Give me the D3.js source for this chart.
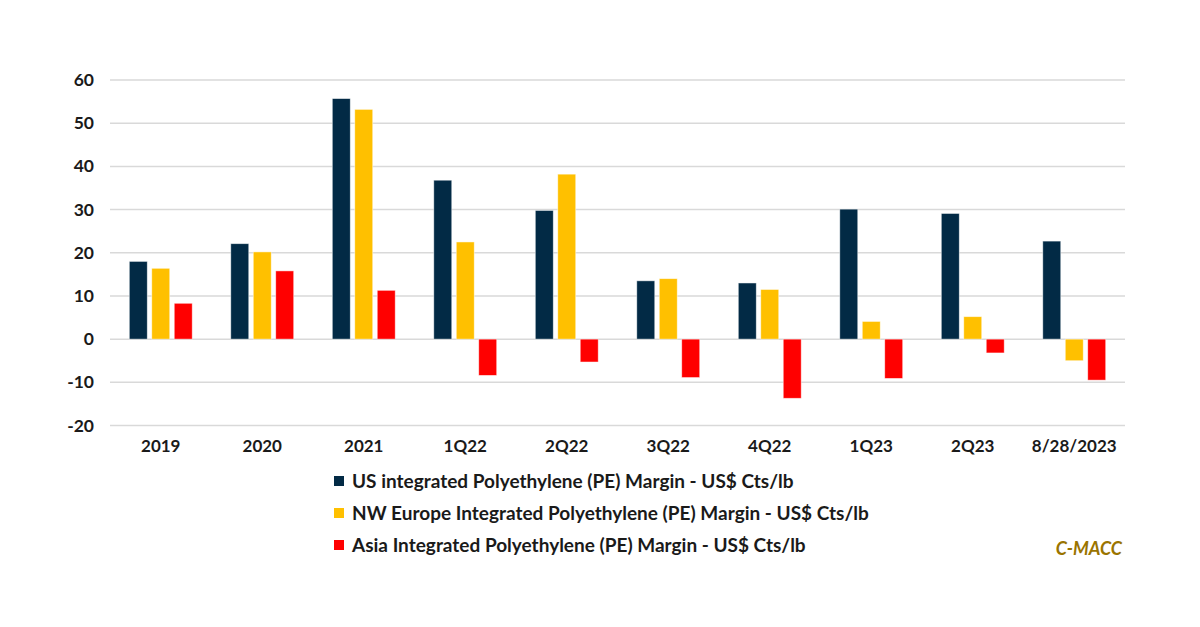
<!DOCTYPE html>
<html>
<head>
<meta charset="utf-8">
<script src="https://cdn.jsdelivr.net/npm/d3@7"></script>
<style>
  body { margin: 0; background: #fff; }
  text { font-family: Lato, "Open Sans", sans-serif; font-weight: bold; }
</style>
</head>
<body>
<div id="chart"></div>
<script>
const categories = ["2019", "2020", "2021", "1Q22", "2Q22", "3Q22", "4Q22", "1Q23", "2Q23", "8/28/2023"];
const usMargin = [18.0, 22.1, 55.7, 36.8, 29.8, 13.5, 13.0, 30.1, 29.1, 22.7];
const nwEuropeMargin = [16.4, 20.2, 53.2, 22.5, 38.2, 14.0, 11.5, 4.1, 5.2, -5.0];
const asiaMargin = [8.3, 15.8, 11.3, -8.4, -5.3, -8.9, -13.7, -9.1, -3.2, -9.5];
const seriesNames = [
  "US integrated Polyethylene (PE) Margin - US$ Cts/lb",
  "NW Europe Integrated Polyethylene (PE) Margin - US$ Cts/lb",
  "Asia Integrated Polyethylene (PE) Margin - US$ Cts/lb",
];
const yTicks = [-20, -10, 0, 10, 20, 30, 40, 50, 60];

const colors = ["#022a45", "#ffc000", "#ff0000"];
const series = [usMargin, nwEuropeMargin, asiaMargin];

var width = 1200, height = 627;
var margin = { top: 80, left: 110, right: 75 };
var plotW = width - margin.left - margin.right;

var svg = d3.select("#chart").append("svg")
  .attr("width", width).attr("height", height);

var y = d3.scaleLinear().domain([-20, 60]).range([425.5, 80]);

var x0 = d3.scaleBand().domain(categories).range([margin.left, margin.left + plotW]).padding(0);
var bw = x0.bandwidth();
var x1 = d3.scaleBand().domain([0, 1, 2])
  .range([bw * 0.19, bw * 0.81]).paddingInner(0.2).paddingOuter(0);

// gridlines
svg.append("g").selectAll("line").data(yTicks).enter().append("line")
  .attr("x1", margin.left).attr("x2", margin.left + plotW)
  .attr("y1", d => y(d)).attr("y2", d => y(d))
  .attr("stroke", "#d9d9d9").attr("stroke-width", 1.5);

// y axis labels (hyphen minus like the original)
var yAxis = svg.append("g")
  .attr("transform", "translate(" + (margin.left - 16) + ",0)")
  .call(d3.axisLeft(y).tickValues(yTicks).tickSize(0).tickPadding(0)
    .tickFormat(d => String(d)));
yAxis.select(".domain").remove();
yAxis.selectAll("text")
  .style("font-family", "Lato, sans-serif").style("font-weight", "bold")
  .style("font-size", "17.5px").attr("fill", "#1a1a1a");

// bars
series.forEach(function (vals, s) {
  svg.append("g").selectAll("rect").data(vals).enter().append("rect")
    .attr("x", (d, i) => x0(categories[i]) + x1(s))
    .attr("y", d => y(Math.max(0, d)))
    .attr("width", x1.bandwidth())
    .attr("height", d => Math.abs(y(d) - y(0)))
    .attr("fill", colors[s])
    .attr("stroke", "#ffffff").attr("stroke-opacity", 0.6).attr("stroke-width", 0.8);
});

// x axis labels
var xAxis = svg.append("g")
  .attr("transform", "translate(0," + 440 + ")")
  .call(d3.axisBottom(x0).tickSize(0).tickPadding(0));
xAxis.select(".domain").remove();
xAxis.selectAll("text")
  .style("font-family", "Lato, sans-serif").style("font-weight", "bold")
  .style("font-size", "17px").attr("fill", "#1a1a1a");

// legend
var legend = svg.append("g");
seriesNames.forEach(function (name, i) {
  var ly = 481 + i * 32;
  legend.append("rect")
    .attr("x", 334).attr("y", ly - 5).attr("width", 10).attr("height", 10)
    .attr("fill", colors[i]);
  legend.append("text")
    .attr("x", 352).attr("y", ly).attr("dy", "0.35em")
    .style("font-size", "19px").attr("fill", "#1a1a1a")
    .text(name);
});

// source
svg.append("text")
  .attr("x", 1122).attr("y", 555)
  .attr("text-anchor", "end")
  .style("font-size", "18px").style("font-style", "italic")
  .attr("fill", "#9a7400")
  .text("C-MACC");
</script>
</body>
</html>
